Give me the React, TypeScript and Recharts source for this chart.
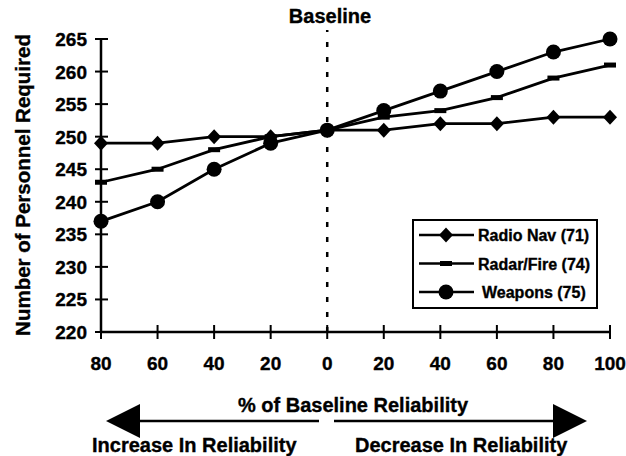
import React from "react";
import { LineChart, Line, XAxis, YAxis, ReferenceLine } from "recharts";

// x positions: negative = increase in reliability side (labels shown as abs value)
const positions = [-80, -60, -40, -20, 0, 20, 40, 60, 80, 100];
const radioNav = [249, 249, 250, 250, 251, 251, 252, 252, 253, 253];
const radarFire = [243, 245, 248, 250, 251, 253, 254, 256, 259, 261];
const weapons = [237, 240, 245, 249, 251, 254, 257, 260, 263, 265];
const yTicks = [220, 225, 230, 235, 240, 245, 250, 255, 260, 265];

const seriesNames = ["Radio Nav (71)", "Radar/Fire (74)", "Weapons (75)"];

const data = positions.map((p, i) => ({
  pos: p,
  radio: radioNav[i],
  radar: radarFire[i],
  weapons: weapons[i],
}));

const FONT = "'Liberation Sans', Arial, sans-serif";
// slight outline so the text reads as heavy as the scanned original
const txt = { fontFamily: FONT, fontWeight: "bold" as const, fill: "#000", stroke: "#000", strokeWidth: 0.35 };

const Diamond = ({ cx, cy }: any) =>
  cx == null ? null : (
    <polygon points={`${cx},${cy - 7.5} ${cx + 7},${cy} ${cx},${cy + 7.5} ${cx - 7},${cy}`} fill="#000" />
  );
const Dash = ({ cx, cy }: any) =>
  cx == null ? null : <rect x={cx - 6} y={cy - 2.5} width={12} height={5} fill="#000" />;
const Circle = ({ cx, cy }: any) =>
  cx == null ? null : <circle cx={cx} cy={cy} r={7.5} fill="#000" />;

const YTick = ({ x, y, payload }: any) => (
  <g>
    <line x1={x - 6} x2={x + 7} y1={y} y2={y} stroke="#000" strokeWidth={2} />
    <text x={x - 14} y={y} dy={7} textAnchor="end" fontSize={19} {...txt}>
      {payload.value}
    </text>
  </g>
);

const XTick = ({ x, y, payload }: any) => (
  <g>
    <line x1={x} x2={x} y1={y - 7} y2={y + 7} stroke="#000" strokeWidth={2} />
    <text x={x} y={y + 38} textAnchor="middle" fontSize={19} {...txt}>
      {Math.abs(payload.value)}
    </text>
  </g>
);

const legendMarks = [Diamond, Dash, Circle];

export default function App() {
  return (
    <div style={{ position: "absolute", left: 0, top: 0, width: 626, height: 456, background: "#fff" }}>
      <LineChart width={626} height={456} data={data} margin={{ top: 39, right: 16, left: 41, bottom: 94 }}>
        <XAxis
          dataKey="pos"
          type="category"
          interval={0}
          height={30}
          tickSize={0}
          tickMargin={0}
          tickLine={false}
          axisLine={{ stroke: "#000", strokeWidth: 2.5 }}
          tick={<XTick />}
        />
        <YAxis
          domain={[220, 265]}
          ticks={yTicks}
          width={60}
          tickSize={0}
          tickMargin={0}
          tickLine={false}
          axisLine={{ stroke: "#000", strokeWidth: 2.5 }}
          tick={<YTick />}
        />
        <ReferenceLine
          segment={[{ x: 0, y: 220 }, { x: 0, y: 266.4 }]}
          ifOverflow="visible"
          stroke="#000"
          strokeWidth={2.5}
          strokeDasharray="5 10"
        />
        <Line dataKey="radio" name={seriesNames[0]} stroke="#000" strokeWidth={2.8} dot={<Diamond />} isAnimationActive={false} />
        <Line dataKey="radar" name={seriesNames[1]} stroke="#000" strokeWidth={2.8} dot={<Dash />} isAnimationActive={false} />
        <Line dataKey="weapons" name={seriesNames[2]} stroke="#000" strokeWidth={2.8} dot={<Circle />} isAnimationActive={false} />

        <text x={330} y={23} textAnchor="middle" fontSize={20} {...txt}>
          Baseline
        </text>
        <text x={0} y={0} transform="translate(30,185) rotate(-90)" textAnchor="middle" fontSize={20.5} {...txt}>
          Number of Personnel Required
        </text>

        {/* legend */}
        <g>
          <rect x={413} y={220} width={184} height={88} fill="#fff" stroke="#000" strokeWidth={2} />
          {seriesNames.map((n, i) => {
            const Mark = legendMarks[i];
            const cy = 235 + i * 28.5;
            return (
              <g key={n}>
                <line x1={419} x2={474} y1={cy} y2={cy} stroke="#000" strokeWidth={2.5} />
                <Mark cx={446} cy={cy} />
                <text x={i === 2 ? 482 : 478} y={cy + 6} fontSize={16} {...txt}>
                  {n}
                </text>
              </g>
            );
          })}
        </g>

        {/* bottom annotation */}
        <text x={353} y={412} textAnchor="middle" fontSize={20} {...txt}>
          % of Baseline Reliability
        </text>
        <line x1={138} x2={319} y1={421} y2={421} stroke="#000" strokeWidth={2.5} />
        <polygon points="106,421 140,404 140,438" fill="#000" />
        <line x1={334} x2={555} y1={421} y2={421} stroke="#000" strokeWidth={2.5} />
        <polygon points="587,421 553,404 553,438" fill="#000" />
        <text x={92} y={452} fontSize={20} {...txt}>
          Increase In Reliability
        </text>
        <text x={355} y={452} fontSize={20} {...txt}>
          Decrease In Reliability
        </text>
      </LineChart>
    </div>
  );
}
